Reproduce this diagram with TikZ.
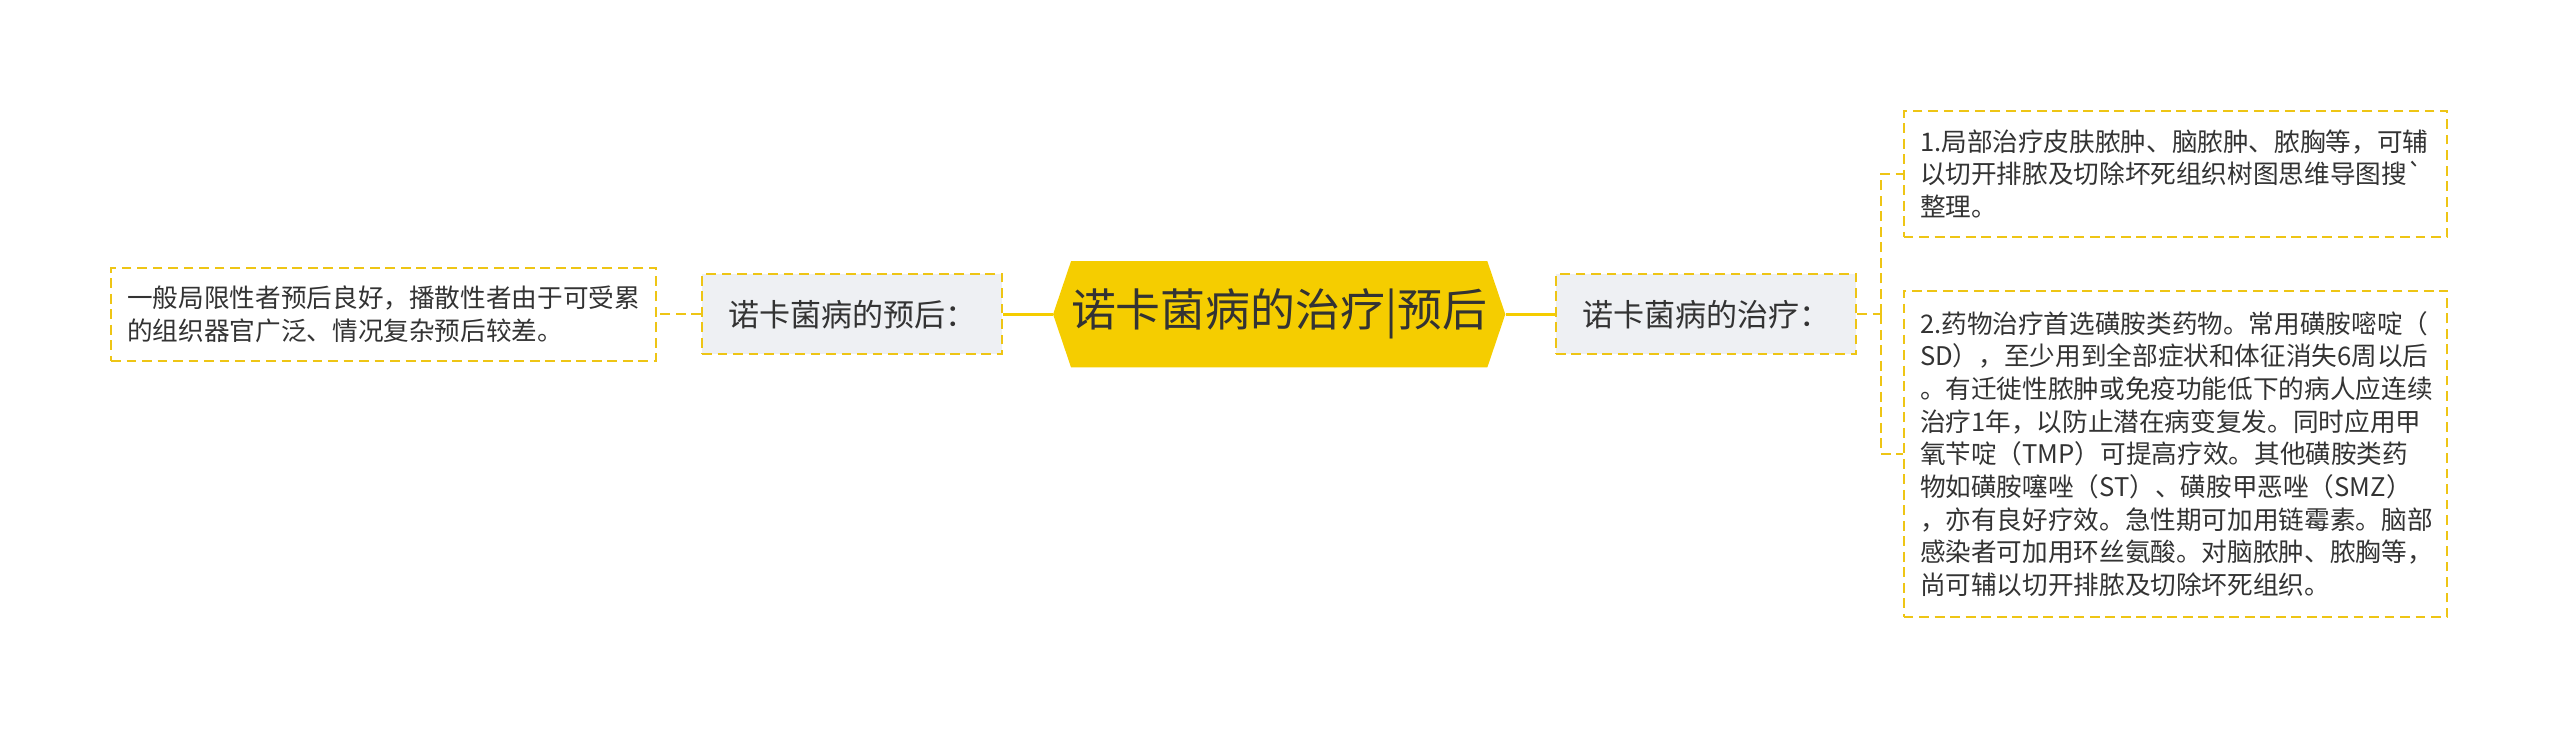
\documentclass[tikz,border=0pt]{standalone}
\usepackage{fontspec}
\setmainfont{Noto Sans CJK SC}
\usetikzlibrary{positioning}
\definecolor{hexyellow}{HTML}{F5CD00}
\definecolor{lineyellow}{HTML}{EEC515}
\definecolor{labelgray}{HTML}{EEF0F3}
\definecolor{inkgray}{HTML}{333333}
\tikzset{
  dashline/.style={draw=lineyellow, line width=1.2pt, dash pattern=on 6pt off 3.5pt},
  leafbox/.style={dashline, fill=white, text=inkgray, align=left, inner xsep=10pt,
    font=\fontsize{15.7}{20}\selectfont},
  labelbox/.style={dashline, fill=labelgray, text=inkgray, minimum width=184, minimum height=49,
    font=\fontsize{19}{22}\selectfont},
  rootline/.style={draw=hexyellow, line width=2pt}
}
\begin{document}
\begin{tikzpicture}[x=1pt,y=-1pt]
\useasboundingbox (0,0) rectangle (1568,446.5);
\fill[hexyellow] (645,192.5) -- (656,160) -- (911,160) -- (922,192.5)
  -- (911,225) -- (656,225) -- cycle;
\node[minimum width=277, minimum height=65, inner sep=0, text=inkgray,
  font=\fontsize{27.5}{30}\selectfont] (m) at (783.5,192.5) {诺卡菌病的治疗|预后};
\node[labelbox] (a) at (522,192.5) {诺卡菌病的预后：};
\node[labelbox] (b) at (1045,192.5) {诺卡菌病的治疗：};
\node[leafbox, text width=314, minimum height=57] (a2) at (235,192.5)
  {一般局限性者预后良好，播散性者由于可受累\\的组织器官广泛、情况复杂预后较差。};
\node[leafbox, text width=313, minimum height=77] (b2) at (1332.5,106.5)
  {1.局部治疗皮肤脓肿、脑脓肿、脓胸等，可辅\\以切开排脓及切除坏死组织树图思维导图搜\textasciigrave\\整理。};
\node[leafbox, text width=313, minimum height=200] (b3) at (1332.5,278)
  {2.药物治疗首选磺胺类药物。常用磺胺嘧啶（\\
   SD），至少用到全部症状和体征消失6周以后\\
   。有迁徙性脓肿或免疫功能低下的病人应连续\\
   治疗1年，以防止潜在病变复发。同时应用甲\\
   氧苄啶（TMP）可提高疗效。其他磺胺类药\\
   物如磺胺噻唑（ST）、磺胺甲恶唑（SMZ）\\
   ，亦有良好疗效。急性期可加用链霉素。脑部\\
   感染者可加用环丝氨酸。对脑脓肿、脓胸等，\\
   尚可辅以切开排脓及切除坏死组织。};
\coordinate (fork) at (1152,192.5);
\draw[rootline] (m.west) -- (a.east);
\draw[rootline] (m.east) -- (b.west);
\draw[dashline] (a.west) -- (a2.east);
\draw[dashline] (b.east) -- (fork);
\draw[dashline] (fork) |- (b2.west);
\draw[dashline] (fork) |- (b3.west);
\end{tikzpicture}
\end{document}
